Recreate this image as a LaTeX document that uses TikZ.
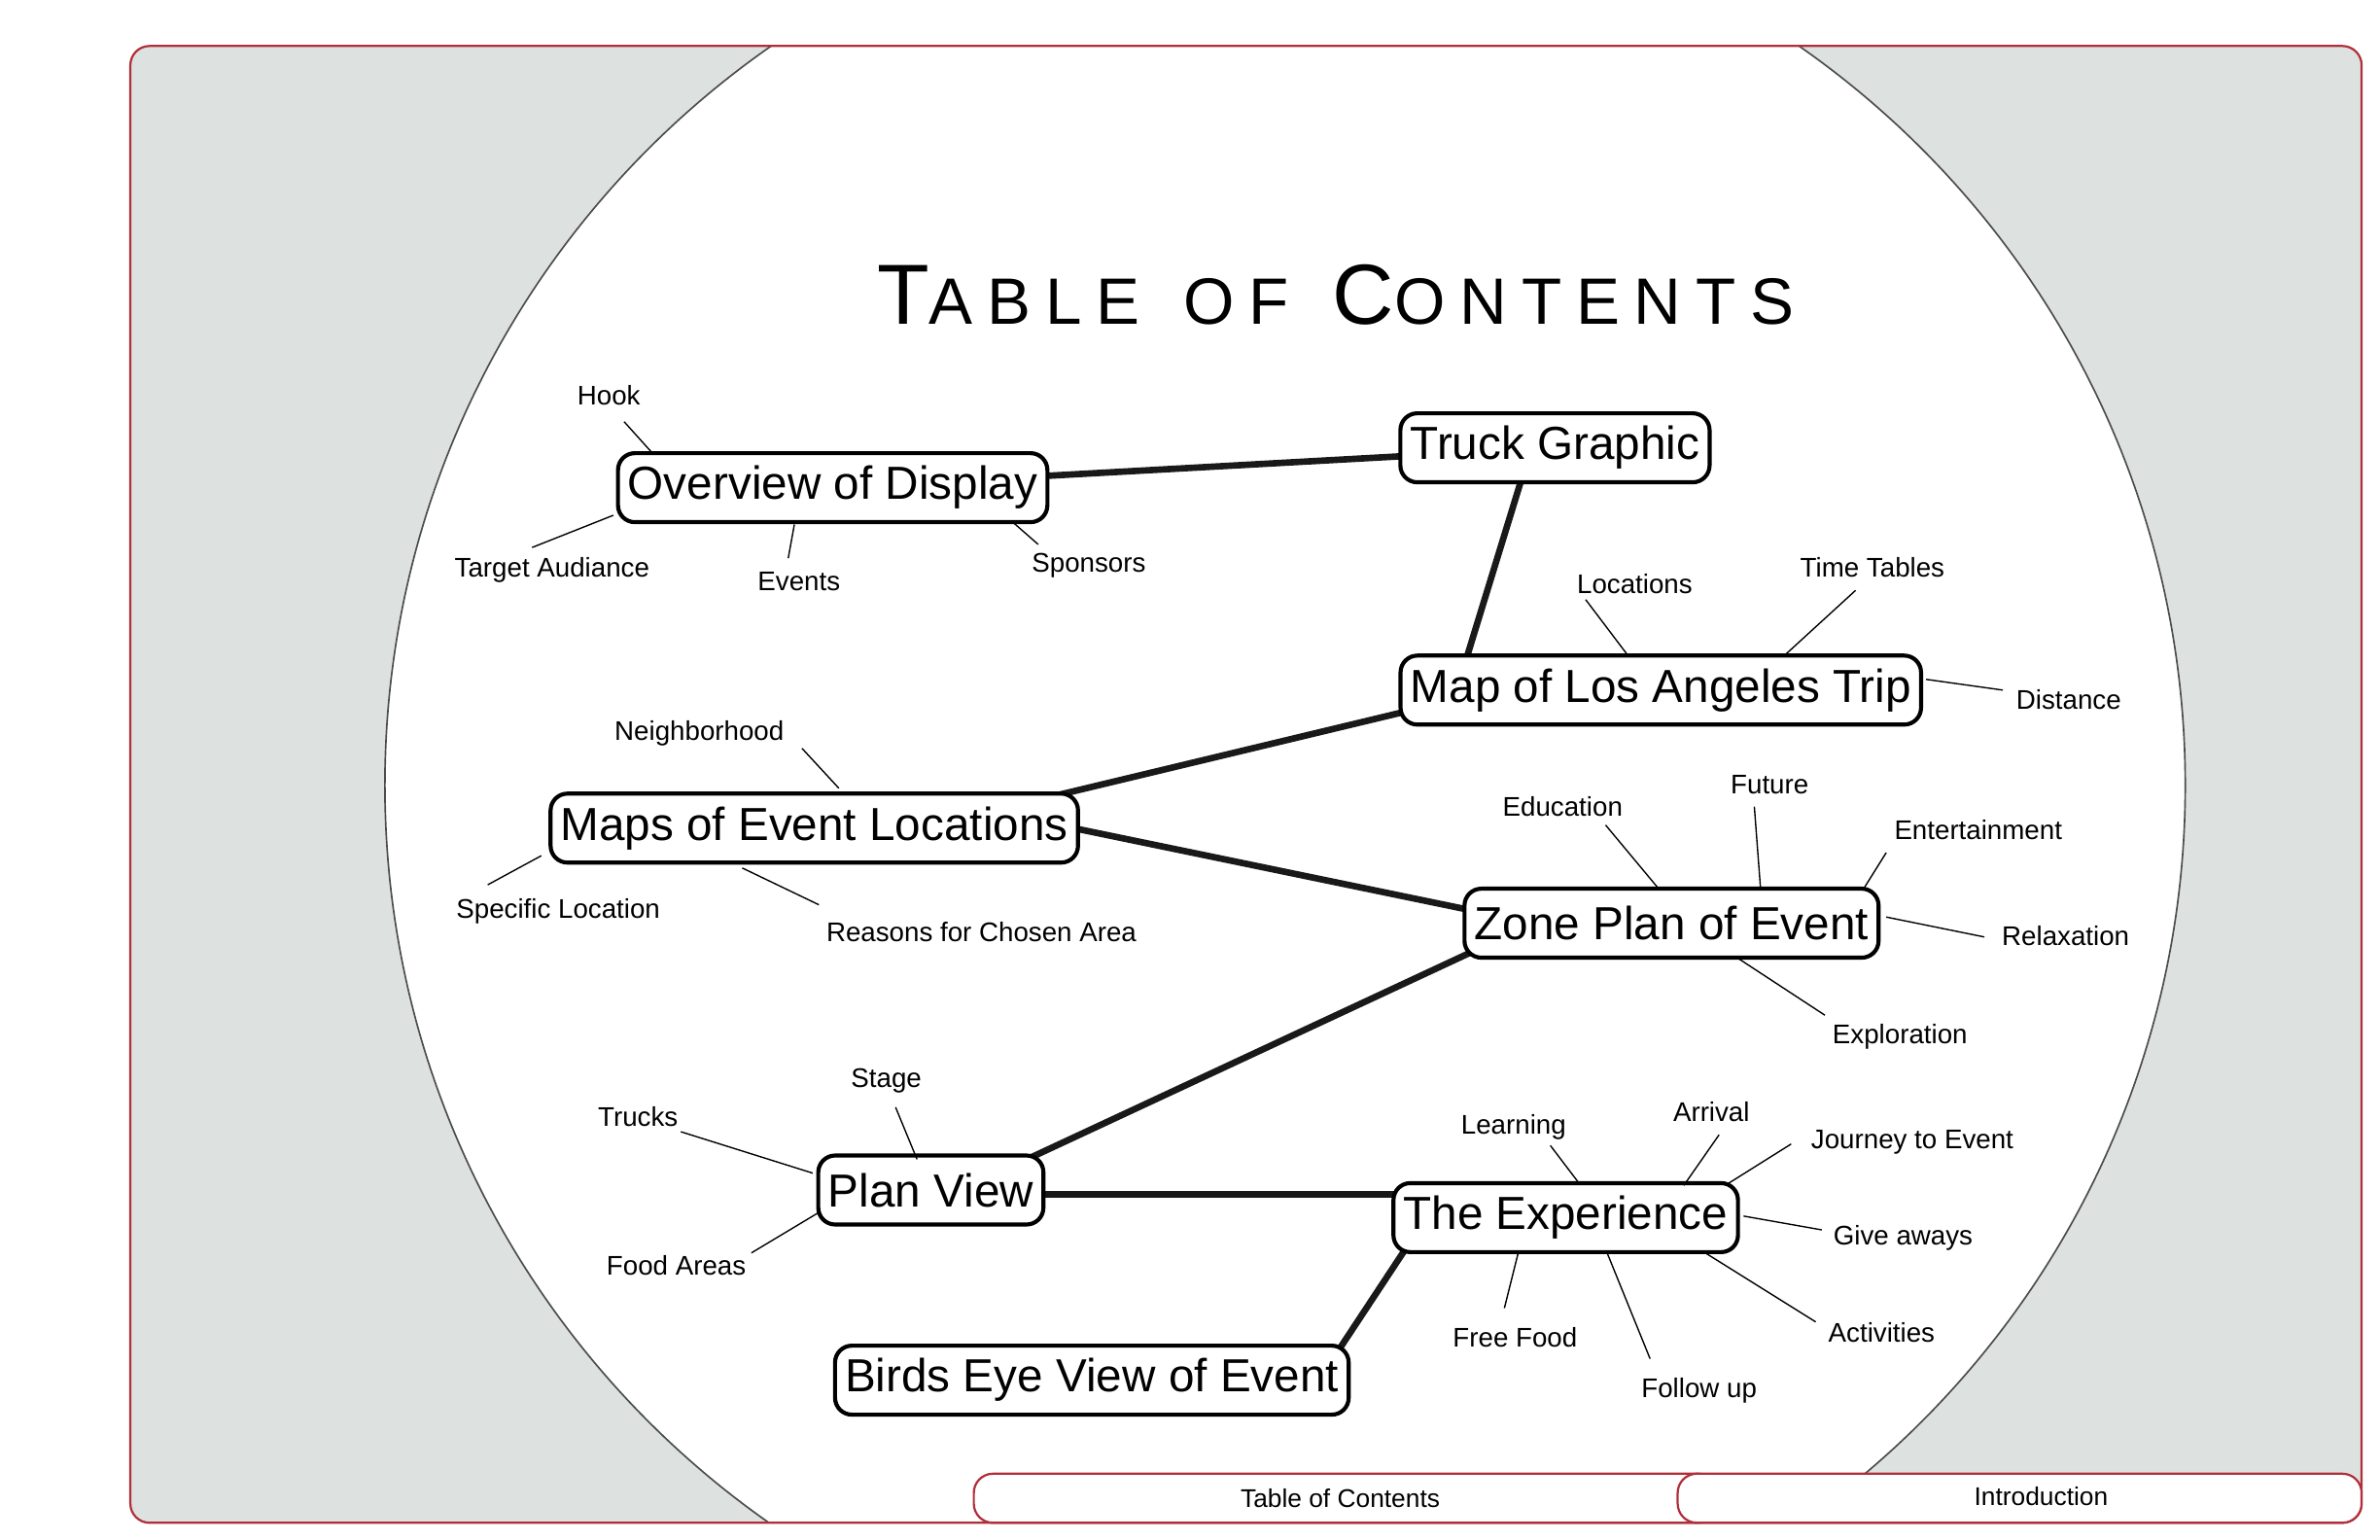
\documentclass[tikz,border=0pt]{standalone}
\usepackage{fontspec}
\setmainfont{Liberation Sans}
\usetikzlibrary{calc}
\definecolor{frame}{HTML}{B0303A}
\definecolor{bg}{HTML}{DDE2E1}
\begin{document}
\begin{tikzpicture}[x=0.02cm,y=-0.02cm,
  main/.style={draw,line width=1.5pt,rounded corners=0.22cm,fill=white,font=\fontsize{17.2}{20}\selectfont,inner xsep=0.13cm,minimum height=0.9cm,anchor=center},
  lbl/.style={font=\fontsize{10}{12}\selectfont,inner sep=1pt},
  link/.style={line width=2.4pt,black!90},
  twig/.style={line width=0.5pt},
  tab/.style={draw=frame,line width=0.8pt,rounded corners=0.25cm,fill=white}]
\useasboundingbox (0,0) rectangle (1552,1004);
\fill[white] (0,0) rectangle (1552,1004);
\begin{scope}
\clip[rounded corners=0.25cm] (85,30) rectangle (1540,993);
\fill[bg] (85,30) rectangle (1540,993);
\fill[white,draw=black!70,line width=0.6pt] (838,512) circle (587);
\end{scope}
\draw[frame,line width=0.8pt,rounded corners=0.25cm] (85,30) rectangle (1540,993);
\draw[tab] (635,961) rectangle (1120,993);
\draw[tab] (1094,961) rectangle (1540,993);
\node[lbl,font=\fontsize{9.5}{11}\selectfont] (t1) at (874,977) {Table of Contents};
\node[lbl,font=\fontsize{9.5}{11}\selectfont] (t2) at (1331,976) {Introduction};
\node (title) at (871,192) {\resizebox{11.96cm}{!}{\addfontfeature{LetterSpace=22}\fontsize{28}{30}\selectfont T\fontsize{21.5}{30}\selectfont ABLE\, OF\, \fontsize{28}{30}\selectfont C\fontsize{21.5}{30}\selectfont ONTENTS}};

\draw[link] (543,318) -- (1014,292);
\draw[link] (996,300) -- (953,440);
\draw[link] (1000,444) -- (600,540);
\draw[link] (700,540) -- (1000,602);
\draw[link] (1000,602) -- (661,760);
\draw[link] (650,779) -- (960,779);
\draw[link] (930,794) -- (860,900);

\node[main] (truck) at (1014,292) {Truck Graphic};
\node[main] (over) at (543,318) {Overview of Display};
\node[main] (la) at (1083,450) {Map of Los Angeles Trip};
\node[main] (maps) at (531,540) {Maps of Event Locations};
\node[main] (zone) at (1090,602) {Zone Plan of Event};
\node[main] (plan) at (607,776) {Plan View};
\node[main] (exp) at (1021,794) {The Experience};
\node[main] (birds) at (712,900) {Birds Eye View of Event};

\foreach \n/\t/\px/\py/\ax/\ay/\bx/\by in {
 hook/Hook/397/258/407/275/425/295,
 ta/Target Audiance/360/372/347/357/400/336,
 ev/Events/521/379/514/364/518/342,
 sp/Sponsors/710/369/677/355/661/341,
 loc/Locations/1066/381/1034/391/1062/428,
 tt/Time Tables/1221/370/1210/385/1163/428,
 dist/Distance/1349/456/1306/450/1256/443,
 nb/Neighborhood/456/478/523/488/547/514,
 sl/Specific Location/364/594/318/577/353/558,
 rc/Reasons for Chosen Area/640/608/534/590/484/566,
 edu/Education/1019/526/1047/538/1082/580,
 fut/Future/1154/512/1144/526/1148/579,
 ent/Entertainment/1290/541/1230/556/1215/580,
 rel/Relaxation/1347/610/1294/611/1230/598,
 expl/Exploration/1239/676/1190/662/1132/624,
 tr/Trucks/416/728/444/738/530/765,
 st/Stage/578/705/584/722/598/756,
 fa/Food Areas/441/825/490/817/535/790,
 lr/Learning/987/735/1011/747/1030/772,
 arr/Arrival/1116/725/1121/740/1098/773,
 jte/Journey to Event/1247/745/1168/746/1125/773,
 ga/Give aways/1241/807/1188/802/1137/793,
 act/Activities/1227/869/1184/862/1112/817,
 ff/Free Food/988/872/981/853/990/817,
 fu/Follow up/1108/907/1076/886/1048/817}{
 \node[lbl] (\n) at (\px,\py) {\t};
 \coordinate (\n a) at (\ax,\ay);
 \coordinate (\n b) at (\bx,\by);
 \draw[twig] (\n a) -- (\n b);
}
\end{tikzpicture}
\end{document}
